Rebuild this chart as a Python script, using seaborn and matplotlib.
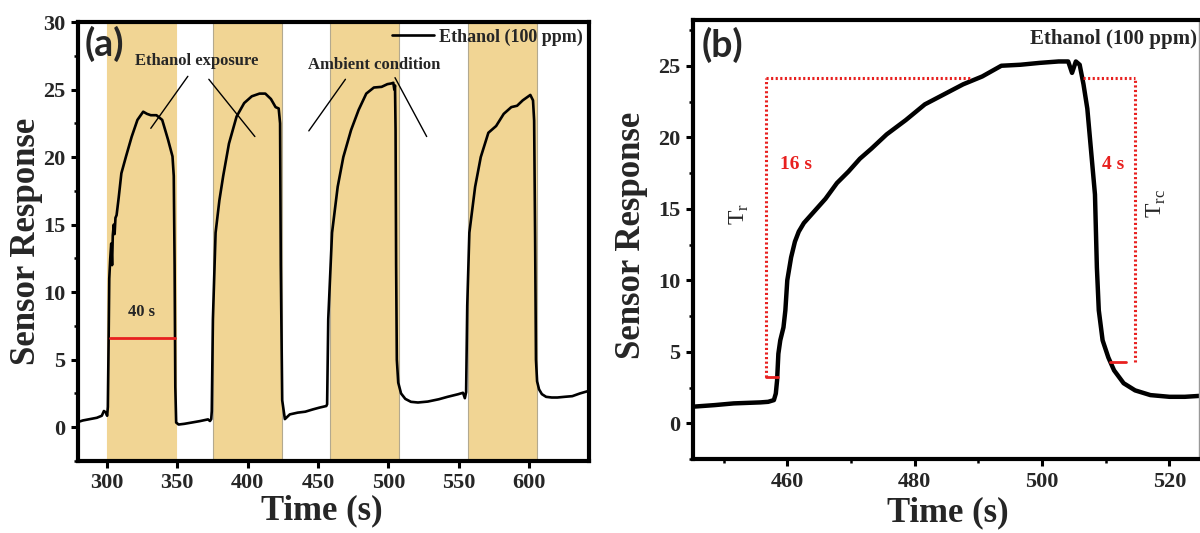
import numpy as np
import pandas as pd
import matplotlib
matplotlib.use("Agg")
import matplotlib.pyplot as plt
import seaborn as sns

# ---------------- data ----------------
# Panel (a): cyclic response to ethanol (100 ppm)
time_a = [280, 283, 288, 293, 296.5, 298, 299.3, 300.3, 300.8, 301.3, 301.8, 302.5, 303.2, 303.8,
          304.3, 305.0, 305.6, 306.2, 307.0, 308.5, 310.4, 313.7, 317.7, 321.8, 325.9, 328.6,
          331.3, 335.3, 339.4, 343.5, 346.7, 347.6, 348.2, 348.7, 349.3, 351, 355, 360, 366,
          371.9, 373.3, 374.2, 374.6, 375.4, 377.3, 380, 382.7, 386.8, 392.2, 397.6, 403,
          408.5, 412.6, 416.6, 419.9, 422.1, 423.1, 423.6, 424.6, 426.5, 430, 435.6, 441, 446.4,
          451, 455.9, 456.5, 457.3, 460, 464, 468, 473.5, 478.9, 484.3, 489.7, 495.2, 499.3,
          502, 503.5, 504.2, 504.7, 505.1, 505.5, 506.0, 507.0, 509, 512, 516, 521, 528,
          535.8, 542, 549.4, 553, 554.3, 555.2, 556.0, 557.5, 561.6, 565.6, 571, 576.5, 581.9,
          587.3, 591.4, 595.4, 600.8, 602.7, 603.5, 604.2, 604.8, 605.6, 607, 609, 612, 616,
          620, 625, 630.6, 636, 642.6]
resp_a = [0.40, 0.50, 0.60, 0.70, 0.85, 1.20, 1.10, 0.85, 1.5, 6.0, 11.0, 12.5, 13.6, 12.0,
          14.2, 15.0, 14.3, 15.5, 15.7, 17.0, 18.8, 20.05, 21.5, 22.75, 23.36, 23.2,
          23.1, 23.1, 22.75, 21.3, 20.05, 18.6, 12.0, 3.0, 0.35, 0.20, 0.25, 0.34, 0.45,
          0.58, 0.46, 0.60, 1.2, 8.0, 14.4, 16.8, 18.6, 21.0, 23.0, 24.0, 24.5,
          24.7, 24.7, 24.3, 23.7, 23.6, 22.5, 12.0, 2.0, 0.60, 0.95, 1.08, 1.15, 1.32,
          1.45, 1.57, 1.70, 8.0, 14.4, 17.8, 20.0, 22.0, 23.5, 24.7, 25.15, 25.2, 25.4,
          25.45, 25.5, 25.0, 25.3, 22.0, 12.0, 5.0, 3.3, 2.5, 2.1, 1.88, 1.83, 1.90,
          2.07, 2.25, 2.44, 2.55, 2.15, 2.60, 9.0, 14.4, 17.8, 20.0, 21.8, 22.3, 23.2,
          23.7, 23.8, 24.2, 24.6, 24.2, 22.7, 14.0, 5.0, 3.4, 2.8, 2.45, 2.25, 2.2,
          2.2, 2.25, 2.3, 2.5, 2.7]

# exposure windows (s)
exp_start = [300.5, 375.5, 458.5, 556.5]
exp_end = [349.5, 424.8, 507.7, 605.4]

# Panel (b): single response/recovery cycle
time_b = [445.2, 448.6, 451.6, 455.8, 457.0, 457.9, 458.2, 458.4, 458.6, 458.9, 459.4, 459.7,
          460.0, 460.6, 461.2, 461.8, 462.6, 464.2, 466.0, 467.8, 469.6, 471.4, 473.2, 475.6,
          478.6, 481.6, 484.6, 487.6, 490.6, 493.6, 496.6, 499.6, 502.6, 504.1, 504.7, 505.3,
          505.9, 506.5, 507.1, 507.7, 508.3, 508.6, 508.9, 509.5, 510.4, 511.3, 512.8, 514.6,
          517.0, 520.0, 522.4, 526.0]
resp_b = [1.16, 1.27, 1.39, 1.46, 1.50, 1.62, 2.08, 3.0, 4.86, 5.8, 6.7, 7.9,
          10.0, 11.6, 12.7, 13.4, 14.0, 14.8, 15.7, 16.8, 17.6, 18.5, 19.2, 20.2,
          21.2, 22.3, 23.0, 23.7, 24.25, 25.0, 25.07, 25.2, 25.3, 25.3, 24.5, 25.3,
          25.07, 23.7, 22.0, 19.0, 16.0, 10.9, 7.9, 5.8, 4.6, 3.7, 2.8, 2.3,
          1.97, 1.85, 1.85, 1.95]

# response / recovery time markers (panel b)
t_resp_start, t_resp_end = 456.7, 514.6
level_top = 24.14
level_resp, level_rec = 3.24, 4.30

# ---------------- style ----------------
sns.set_theme(style="ticks")
plt.rcParams["font.family"] = ["Liberation Serif", "DejaVu Sans"]
plt.rcParams["font.weight"] = "bold"
plt.rcParams["mathtext.fontset"] = "custom"
plt.rcParams["mathtext.rm"] = "Liberation Serif"

band_color = "#F1D594"
red = "#E8201F"

fig = plt.figure(figsize=(12, 5.33), dpi=100)
ax1 = fig.add_axes([0.065, 0.1351, 0.426, 0.8236])
ax2 = fig.add_axes([0.5775, 0.1388, 0.4215, 0.8237])

df_a = pd.DataFrame({"Time (s)": time_a, "Sensor Response": resp_a})
df_b = pd.DataFrame({"Time (s)": time_b, "Sensor Response": resp_b})

# ---------- panel (a) ----------
for i, (s, e) in enumerate(zip(exp_start, exp_end)):
    ax1.axvspan(s, e, facecolor=band_color, edgecolor="#b3a98f" if i else band_color,
                linewidth=0.8, zorder=0)
sns.lineplot(data=df_a, x="Time (s)", y="Sensor Response", ax=ax1, color="black",
             linewidth=1.9, sort=False, estimator=None, label="Ethanol (100 ppm)")
ax1.set_xlim(279.6, 642.6)
ax1.set_ylim(-2.45, 30)
ax1.set_xticks([300, 350, 400, 450, 500, 550, 600])
ax1.set_yticks([0, 5, 10, 15, 20, 25, 30])
ax1.set_yticks(np.arange(-2.5, 30, 2.5), minor=True)
ax1.legend(loc="upper right", frameon=False, prop={"size": 13, "weight": "bold"},
           handlelength=2.3, handletextpad=0.3, borderaxespad=0.15, borderpad=0.2)

ax1.text(284.4, 28.35, "(a)", family=["Lato", "DejaVu Sans"], fontweight="bold",
         fontsize=27, ha="left", va="center")
ax1.text(364.2, 27.15, "Ethanol exposure", fontsize=12, ha="center", va="center")
ax1.text(489.8, 26.8, "Ambient condition", fontsize=12, ha="center", va="center")
for (x0, y0, x1, y1) in [(357.6, 25.98, 331.3, 22.13), (372.5, 25.76, 405.2, 21.52),
                         (469.5, 25.76, 443.5, 21.94), (504.7, 25.88, 527.2, 21.52)]:
    ax1.plot([x0, x1], [y0, y1], color="black", linewidth=1.0)
ax1.plot([302, 348.4], [6.6, 6.6], color=red, linewidth=2.0)
ax1.text(324.5, 8.5, "40 s", fontsize=12, ha="center", va="center")

# ---------- panel (b) ----------
sns.lineplot(data=df_b, x="Time (s)", y="Sensor Response", ax=ax2, color="black",
             linewidth=3.2, sort=False, estimator=None, legend=False)
ax2.set_xlim(445.2, 524.6)
ax2.set_ylim(-2.5, 28.2)
ax2.set_xticks([460, 480, 500, 520])
ax2.set_xticks(np.arange(450, 525, 10), minor=True)
ax2.set_yticks([0, 5, 10, 15, 20, 25])
ax2.set_yticks(np.arange(-2.5, 28, 2.5), minor=True)

dot = dict(color=red, linewidth=2.2, linestyle=(0, (0.7, 0.8)))
ax2.plot([t_resp_start, t_resp_start], [level_resp, level_top], **dot)
ax2.plot([t_resp_start, 488.8], [level_top, level_top], **dot)
ax2.plot([506.4, t_resp_end], [level_top, level_top], **dot)
ax2.plot([t_resp_end, t_resp_end], [level_rec, level_top], **dot)
ax2.plot([t_resp_start, 458.6], [level_resp, level_resp], color=red, linewidth=2.0)
ax2.plot([510.7, 513.1], [level_rec, level_rec], color=red, linewidth=2.0)

ax2.text(458.8, 18.1, "16 s", color=red, fontsize=14, ha="left", va="center")
ax2.text(511.1, 18.1, "4 s", color=red, fontsize=14, ha="center", va="center")
ax2.text(452.5, 14.6, r"T$_\mathregular{r}$", fontsize=17, fontweight="normal",
         rotation=90, ha="center", va="center")
ax2.text(517.9, 15.4, r"T$_\mathregular{rc}$", fontsize=17, fontweight="normal",
         rotation=90, ha="center", va="center")
ax2.text(498.1, 26.9, "Ethanol (100 ppm)", fontsize=15, ha="left", va="center")
ax2.text(446.6, 26.45, "(b)", family=["Lato", "DejaVu Sans"], fontweight="bold",
         fontsize=27, ha="left", va="center")

# ---------- common axis styling ----------
for ax in (ax1, ax2):
    for sp in ax.spines.values():
        sp.set_linewidth(3.0)
        sp.set_color("black")
    ax.tick_params(axis="both", which="major", direction="out", length=5, width=2.2,
                   labelsize=16, pad=4, color="black")
    ax.tick_params(axis="both", which="minor", direction="out", length=3, width=1.8,
                   color="black")
    ax.tick_params(top=False, right=False, which="both")
    for lab in ax.get_xticklabels() + ax.get_yticklabels():
        lab.set_fontweight("bold")
    ax.set_xlabel("Time (s)", fontsize=25, fontweight="bold")
    ax.set_ylabel("Sensor Response", fontsize=25, fontweight="bold")

ax1.tick_params(axis="x", which="minor", bottom=False)
ax2.spines["right"].set_linewidth(1.0)
ax2.spines["right"].set_color("#999999")

ax1.xaxis.set_label_coords(0.477, -0.075)
ax1.yaxis.set_label_coords(-0.068, 0.5)
ax2.xaxis.set_label_coords(0.504, -0.085)
ax2.yaxis.set_label_coords(-0.088, 0.51)

fig.savefig("out.png", dpi=100)
